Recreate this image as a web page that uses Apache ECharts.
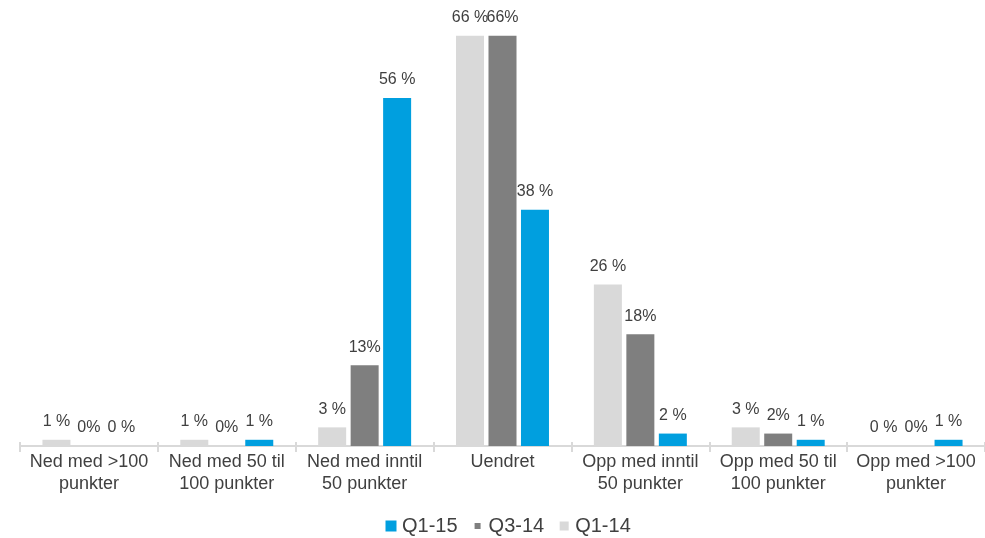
<!DOCTYPE html>
<html>
<head>
<meta charset="utf-8">
<script src="https://cdn.jsdelivr.net/npm/echarts@6/dist/echarts.min.js"></script>
<style>
  html, body { margin: 0; padding: 0; background: #ffffff; }
  #chart { width: 985px; height: 538px; }
</style>
</head>
<body>
<div id="chart"></div>
<script>
// Endring i rente (punkter) – andel svar per kategori
const categories = [
  'Ned med >100\npunkter',
  'Ned med 50 til\n100 punkter',
  'Ned med inntil\n50 punkter',
  'Uendret',
  'Opp med inntil\n50 punkter',
  'Opp med 50 til\n100 punkter',
  'Opp med >100\npunkter'
];

const seriesNames = ['Q1-14', 'Q3-14', 'Q1-15'];

const valuesQ1_14 = [1, 1, 3, 66, 26, 3, 0];
const valuesQ3_14 = [0, 0, 13, 66, 18, 2, 0];
const valuesQ1_15 = [0, 1, 56, 38, 2, 1, 1];

const labelsQ1_14 = ['1 %', '1 %', '3 %', '66 %', '26 %', '3 %', '0 %'];
const labelsQ3_14 = ['0%', '0%', '13%', '66%', '18%', '2%', '0%'];
const labelsQ1_15 = ['0 %', '1 %', '56 %', '38 %', '2 %', '1 %', '1 %'];

const legendOrder = ['Q1-15', 'Q3-14', 'Q1-14'];

const colors = { 'Q1-14': '#D9D9D9', 'Q3-14': '#7F7F7F', 'Q1-15': '#009FDF' };
const textColor = '#404040';

// Square icons of different sizes inside a common 12x12 box
const icons = {
  'Q1-15': 'path://M0 0L0 0M12 12L12 12M0.5 0.5H11.5V11.5H0.5Z',
  'Q3-14': 'path://M0 0L0 0M12 12L12 12M3 3H9V9H3Z',
  'Q1-14': 'path://M0 0L0 0M12 12L12 12M1.5 1.5H10.5V10.5H1.5Z'
};

function barSeries(name, values, labels) {
  return {
    name: name,
    type: 'bar',
    xAxisIndex: 0,
    data: values,
    barWidth: 28,
    barGap: '16%',
    itemStyle: { color: colors[name] },
    label: {
      show: true,
      position: 'top',
      distance: 10,
      color: textColor,
      fontSize: 16,
      fontFamily: 'Liberation Sans, Arial, sans-serif',
      formatter: p => labels[p.dataIndex]
    }
  };
}

const chart = echarts.init(document.getElementById('chart'), null, { renderer: 'canvas' });

chart.setOption({
  animation: false,
  textStyle: { fontFamily: 'Liberation Sans, Arial, sans-serif' },
  grid: { left: 20, top: 11, width: 969, height: 435 },
  legend: {
    left: 385,
    top: 516,
    padding: 0,
    itemWidth: 12,
    itemHeight: 12,
    itemGap: 14,
    textStyle: { color: textColor, fontSize: 20, fontFamily: 'Liberation Sans, Arial, sans-serif' },
    data: legendOrder.map(n => ({ name: n, icon: icons[n] }))
  },
  xAxis: [
    {
      type: 'category',
      data: categories,
      axisLine: { lineStyle: { color: '#D9D9D9', width: 2 } },
      axisTick: { show: true, length: 6, lineStyle: { color: '#D9D9D9', width: 2 } },
      axisLabel: {
        color: textColor,
        fontSize: 18,
        lineHeight: 22,
        margin: 5,
        interval: 0,
        fontFamily: 'Liberation Sans, Arial, sans-serif'
      }
    },
    {
      // upper half of the crossing ticks
      type: 'category',
      data: categories,
      position: 'bottom',
      axisLine: { show: false },
      axisTick: { show: true, inside: true, length: 4, lineStyle: { color: '#D9D9D9', width: 2 } },
      axisLabel: { show: false }
    }
  ],
  yAxis: {
    type: 'value',
    min: 0,
    max: 70,
    show: false,
    splitLine: { show: false }
  },
  series: [
    barSeries('Q1-14', valuesQ1_14, labelsQ1_14),
    barSeries('Q3-14', valuesQ3_14, labelsQ3_14),
    barSeries('Q1-15', valuesQ1_15, labelsQ1_15)
  ]
});
</script>
</body>
</html>
